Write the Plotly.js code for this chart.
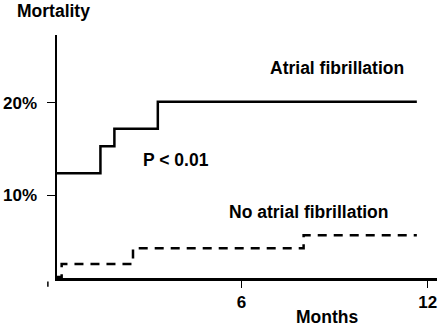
<!DOCTYPE html>
<html>
<head>
<meta charset="utf-8">
<script src="https://cdn.plot.ly/plotly-3.0.1.min.js"></script>
<style>html,body{margin:0;padding:0;background:#fff;}#chart{width:438px;height:328px;}</style>
</head>
<body>
<div id="chart"></div>
<script>
// Months and cumulative mortality (%)
var afMonths = [0, 1.45, 1.9, 3.3, 11.65];
var afMortality = [12.4, 15.3, 17.2, 20.1, 20.1];
var noAfMonths = [0, 0.2, 2.5, 8.0, 11.65];
var noAfMortality = [1.2, 2.6, 4.3, 5.7, 5.7];
var xTickVals = [6, 12];
var xTickText = ['6', '12'];
var yTickVals = [10, 20];
var yTickText = ['10%', '20%'];

var FONT = 'Liberation Sans, Arial, sans-serif';

var traces = [
  {x: afMonths, y: afMortality, mode: 'lines', line: {shape: 'hv', color: '#000', width: 2.5}, hoverinfo: 'skip'},
  {x: noAfMonths, y: noAfMortality, mode: 'lines', line: {shape: 'hv', color: '#000', width: 2.5, dash: '9px,7px'}, hoverinfo: 'skip'}
];

var layout = {
  width: 438, height: 328,
  margin: {l: 57, r: 1, t: 35, b: 50},
  paper_bgcolor: '#fff', plot_bgcolor: '#fff',
  showlegend: false,
  font: {family: FONT, color: '#000'},
  xaxis: {
    range: [0.05, 12.3], showgrid: false, zeroline: false,
    showline: true, linecolor: '#000', linewidth: 2.5,
    ticks: 'outside', ticklen: 7, tickwidth: 1.5, tickcolor: '#000',
    tickvals: xTickVals, ticktext: xTickText,
    tickfont: {family: FONT, size: 17, weight: 'bold', color: '#000'}
  },
  yaxis: {
    range: [1.1, 27.3], showgrid: false, zeroline: false,
    showline: true, linecolor: '#000', linewidth: 2.5,
    ticks: 'outside', ticklen: 8, tickwidth: 1.5, tickcolor: '#000',
    tickvals: yTickVals, ticktext: yTickText,
    tickfont: {family: FONT, size: 17, weight: 'bold', color: '#000'},
    ticklabelstandoff: 6
  },
  shapes: [
    {type: 'line', xref: 'paper', yref: 'paper', x0: -0.024, x1: -0.024, y0: -0.014, y1: -0.036, line: {color: '#000', width: 1.5}}
  ],
  annotations: [
    {text: '<b>Mortality</b>', xref: 'paper', yref: 'paper', x: -0.009, y: 1.10, showarrow: false, xanchor: 'center', yanchor: 'middle', font: {size: 17.5}},
    {text: '<b>Months</b>', xref: 'paper', yref: 'paper', x: 0.71, y: -0.162, showarrow: false, xanchor: 'center', yanchor: 'middle', font: {size: 17.5}},
    {text: '<b>Atrial fibrillation</b>', xref: 'x', yref: 'y', x: 9.09, y: 23.78, showarrow: false, xanchor: 'center', yanchor: 'middle', font: {size: 17.5}},
    {text: '<b>P &lt; 0.01</b>', xref: 'x', yref: 'y', x: 3.88, y: 13.78, showarrow: false, xanchor: 'center', yanchor: 'middle', font: {size: 17.5}},
    {text: '<b>No atrial fibrillation</b>', xref: 'x', yref: 'y', x: 8.17, y: 8.24, showarrow: false, xanchor: 'center', yanchor: 'middle', font: {size: 17.5}}
  ]
};

Plotly.newPlot('chart', traces, layout, {staticPlot: true, displayModeBar: false});
</script>
</body>
</html>
